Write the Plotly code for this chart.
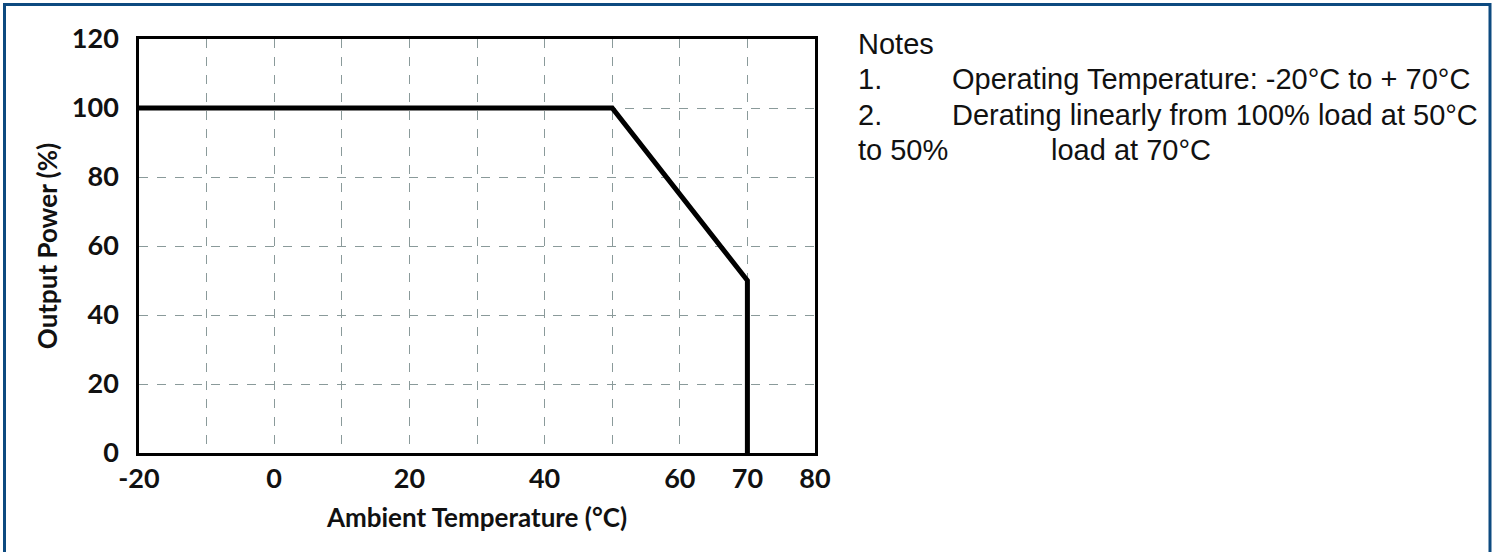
import plotly.graph_objects as go

# Data
temps = [-20, 50, 70, 70]
power = [100, 100, 50, 0]

x_tickvals = [-20, -10, 0, 10, 20, 30, 40, 50, 60, 70, 80]
x_ticktext = ["-20", "", "0", "", "20", "", "40", "", "60", "70", "80"]
y_tickvals = [0, 20, 40, 60, 80, 100, 120]
y_ticktext = ["0", "20", "40", "60", "80", "100", "120"]

x_title = "Ambient Temperature (°C)"
y_title = "Output Power (%)"

notes_lines = [
    ("Notes", None),
    ("1.", "Operating Temperature: -20°C to + 70°C"),
    ("2.", "Derating linearly from 100% load at 50°C"),
    ("to 50%", "load at 70°C"),
]

W, H = 1497, 552
L, R, T, B = 139, 682, 39, 99
PW, PH = W - L - R, H - T - B


def px_x(px):
    return (px - L) / PW


def px_y(py):
    return 1 - (py - T) / PH


axis_font = dict(family="Lato", size=27, color="#111111", weight="bold")
title_font = dict(family="Lato", size=26, color="#111111", weight="bold")
notes_font = dict(family="Liberation Sans", size=29, color="#111111")

fig = go.Figure()
fig.add_trace(go.Scatter(
    x=temps, y=power, mode="lines",
    line=dict(color="black", width=5),
    hoverinfo="skip", showlegend=False,
))

grid_color = "#8a9a9a"
fig.update_xaxes(
    range=[-20, 80], tickvals=x_tickvals, ticktext=x_ticktext,
    showgrid=True, gridcolor=grid_color, griddash="dash", gridwidth=1.3,
    showline=True, linecolor="black", linewidth=2.5, mirror=True,
    zeroline=False, ticks="", tickfont=axis_font, ticklabelstandoff=0,
    title=dict(text=x_title, font=title_font, standoff=16),
)
fig.update_yaxes(
    range=[0, 120], tickvals=y_tickvals, ticktext=y_ticktext,
    showgrid=True, gridcolor=grid_color, griddash="dash", gridwidth=1.3,
    showline=True, linecolor="black", linewidth=2.5, mirror=True,
    zeroline=False, ticks="", tickfont=axis_font, ticklabelstandoff=12,
    title=dict(text=y_title, font=title_font, standoff=7),
)

# Notes text
line_y = [44, 79, 115, 150]
for (a, b), yy in zip(notes_lines, line_y):
    fig.add_annotation(x=px_x(856), y=px_y(yy), xref="paper", yref="paper",
                       text=a, showarrow=False, xanchor="left", yanchor="middle",
                       font=notes_font)
    if b is not None:
        bx = 950 if a != "to 50%" else 1049
        fig.add_annotation(x=px_x(bx), y=px_y(yy), xref="paper", yref="paper",
                           text=b, showarrow=False, xanchor="left", yanchor="middle",
                           font=notes_font)

# Page border (left, top, right)
border = "#0d4a80"
for x0, y0, x1, y1 in [(4.5, 3, 4.5, 560), (3, 4.5, 1491, 4.5), (1490, 3, 1490, 560)]:
    fig.add_shape(type="line", xref="paper", yref="paper",
                  x0=px_x(x0), y0=px_y(y0), x1=px_x(x1), y1=px_y(y1),
                  line=dict(color=border, width=3), layer="above")

fig.update_layout(
    width=W, height=H,
    margin=dict(l=L, r=R, t=T, b=B),
    paper_bgcolor="white", plot_bgcolor="white",
    showlegend=False,
)

fig.write_html("out.html", config={"displayModeBar": False},
               post_script="document.body.style.margin='0';document.body.style.overflow='hidden';")
